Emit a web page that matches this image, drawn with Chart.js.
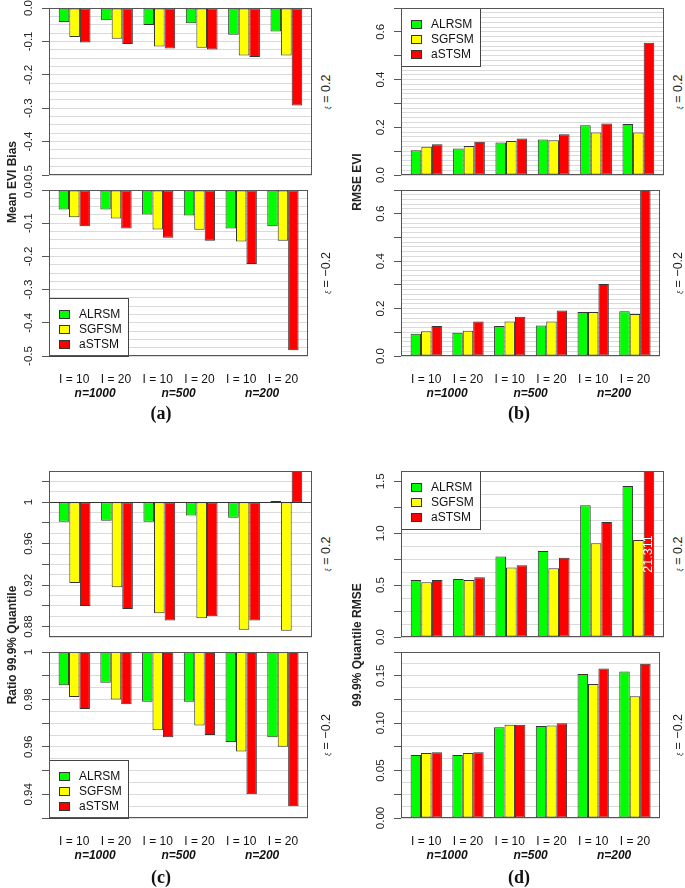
<!DOCTYPE html>
<html><head><meta charset="utf-8">
<script src="https://cdn.jsdelivr.net/npm/chart.js@4"></script>
<style>
html,body{margin:0;padding:0;background:#fff;overflow:hidden;}
#wrap{position:relative;width:685px;height:888px;overflow:hidden;background:#fff;font-family:"Liberation Sans",Arial,sans-serif;}
canvas{position:absolute;}
.rot{position:absolute;transform:translate(-50%,-50%) rotate(-90deg);white-space:nowrap;color:#222;}
.ytitle{font-weight:bold;font-size:12px;}
.xi{font-size:12.5px;}
.xi .sym{font-size:7px;font-style:italic;}
.plab{position:absolute;transform:translate(-50%,-50%);font-family:"Liberation Serif","Times New Roman",serif;font-weight:bold;font-size:18px;color:#111;white-space:nowrap;}
</style></head><body><div id="wrap"></div>
<script>
// ---------- categories ----------
const groupLabels = ["I = 10", "I = 20", "I = 10", "I = 20", "I = 10", "I = 20"];
const sampleSizeLabels = ["n=1000", "n=500", "n=200"];
const seriesNames = ["ALRSM", "SGFSM", "aSTSM"];

// ---------- (a) Mean EVI Bias ----------
const biasPosALRSM = [-0.042, -0.037, -0.051, -0.046, -0.080, -0.070];
const biasPosSGFSM = [-0.087, -0.092, -0.115, -0.119, -0.142, -0.142];
const biasPosASTSM = [-0.103, -0.108, -0.121, -0.124, -0.147, -0.292];
const biasNegALRSM = [-0.059, -0.059, -0.074, -0.077, -0.116, -0.109];
const biasNegSGFSM = [-0.082, -0.086, -0.119, -0.120, -0.155, -0.153];
const biasNegASTSM = [-0.109, -0.116, -0.144, -0.153, -0.223, -0.483];

// ---------- (b) RMSE EVI ----------
const rmsePosALRSM = [0.104, 0.111, 0.136, 0.149, 0.209, 0.214];
const rmsePosSGFSM = [0.118, 0.122, 0.143, 0.146, 0.178, 0.178];
const rmsePosASTSM = [0.129, 0.139, 0.153, 0.171, 0.216, 0.554];
const rmseNegALRSM = [0.094, 0.098, 0.126, 0.129, 0.186, 0.189];
const rmseNegSGFSM = [0.104, 0.107, 0.146, 0.146, 0.186, 0.177];
const rmseNegASTSM = [0.126, 0.146, 0.165, 0.192, 0.304, 0.700];

// ---------- (c) Ratio 99.9% Quantile ----------
const ratioPosALRSM = [0.981, 0.982, 0.981, 0.987, 0.985, 1.001];
const ratioPosSGFSM = [0.922, 0.918, 0.893, 0.888, 0.877, 0.876];
const ratioPosASTSM = [0.900, 0.897, 0.886, 0.890, 0.886, 1.040];
const ratioNegALRSM = [0.986, 0.987, 0.979, 0.979, 0.962, 0.964];
const ratioNegSGFSM = [0.981, 0.980, 0.967, 0.969, 0.958, 0.960];
const ratioNegASTSM = [0.976, 0.978, 0.964, 0.965, 0.940, 0.935];

// ---------- (d) 99.9% Quantile RMSE ----------
const qrmsePosALRSM = [0.549, 0.559, 0.777, 0.829, 1.269, 1.455];
const qrmsePosSGFSM = [0.527, 0.549, 0.671, 0.662, 0.903, 0.935];
const qrmsePosASTSM = [0.549, 0.575, 0.691, 0.765, 1.108, 21.311];
const qrmseNegALRSM = [0.0664, 0.0664, 0.0958, 0.0969, 0.1517, 0.1545];
const qrmseNegSGFSM = [0.0685, 0.0685, 0.0983, 0.0976, 0.1413, 0.1283];
const qrmseNegASTSM = [0.0692, 0.0692, 0.0983, 0.1000, 0.1577, 0.1626];

// ---------- tick labels ----------
const biasTicks = ["0.0", "-0.1", "-0.2", "-0.3", "-0.4", "-0.5"];
const rmseTicks = ["0.0", "0.2", "0.4", "0.6"];
const ratioPosTicks = ["0.88", "0.92", "0.96", "1"];
const ratioNegTicks = ["0.94", "0.96", "0.98", "1"];
const qrmsePosTicks = ["0.0", "0.5", "1.0", "1.5"];
const qrmseNegTicks = ["0.00", "0.05", "0.10", "0.15"];

const seriesColors = ["#00FF00", "#FFFF00", "#FF0000"];
const FONT = '"Liberation Sans", Arial, sans-serif';
Chart.defaults.font.family = FONT;

const panels = [
  {rect:[49,8,312,175],   series:[biasPosALRSM,biasPosSGFSM,biasPosASTSM], min:-0.5, max:0, major:0.1, grid:0.025, labels:biasTicks, bottom:false, xi:"0.2"},
  {rect:[49,190,312,356], series:[biasNegALRSM,biasNegSGFSM,biasNegASTSM], min:-0.5, max:0, major:0.1, grid:0.025, labels:biasTicks, bottom:true, xi:"\u22120.2", legend:"bottomleft"},
  {rect:[401,8,664,175],  series:[rmsePosALRSM,rmsePosSGFSM,rmsePosASTSM], min:0, max:0.7, major:0.1, grid:0.02, labels:rmseTicks, bottom:false, xi:"0.2", legend:"topleft"},
  {rect:[401,190,664,356],series:[rmseNegALRSM,rmseNegSGFSM,rmseNegASTSM], min:0, max:0.7, major:0.1, grid:0.02, labels:rmseTicks, bottom:true, xi:"\u22120.2"},
  {rect:[49,471,312,637], series:[ratioPosALRSM,ratioPosSGFSM,ratioPosASTSM], min:0.87, max:1.03, major:0.02, grid:0.01, labels:ratioPosTicks, bottom:false, xi:"0.2", base:1, refLine:1},
  {rect:[49,652,312,818], series:[ratioNegALRSM,ratioNegSGFSM,ratioNegASTSM], min:0.93, max:1, major:0.01, grid:0.005, labels:ratioNegTicks, bottom:true, xi:"\u22120.2", base:1, legend:"bottomleft"},
  {rect:[401,471,664,637],series:[qrmsePosALRSM,qrmsePosSGFSM,qrmsePosASTSM], min:0, max:1.6, major:0.25, grid:0.125, labels:qrmsePosTicks, bottom:false, xi:"0.2", legend:"topleft", overflowText:true},
  {rect:[401,652,664,818],series:[qrmseNegALRSM,qrmseNegSGFSM,qrmseNegASTSM], min:0, max:0.175, major:0.025, grid:0.0125, labels:qrmseNegTicks, bottom:true, xi:"\u22120.2"}
];

const wrap = document.getElementById('wrap');

function gridTicks(min, max, step) {
  const k0 = Math.ceil(min / step - 1e-7), k1 = Math.floor(max / step + 1e-7);
  const out = [];
  for (let k = k0; k <= k1; k++) out.push({value: +(k * step).toFixed(6)});
  return out;
}
function isMajor(v, step) { return Math.abs(v / step - Math.round(v / step)) < 1e-6; }

const decorPlugin = {
  id: 'decor',
  afterDraw(chart, args, o) {
    const ctx = chart.ctx, a = chart.chartArea, ys = chart.scales.y;
    ctx.save();
    if (o.overflowText) {
      chart.data.datasets.forEach((ds, di) => {
        const meta = chart.getDatasetMeta(di);
        ds.data.forEach((d, i) => {
          if (d.y > ys.max) {
            const el = meta.data[i];
            ctx.save();
            ctx.translate(el.x, ys.getPixelForValue((ys.min + ys.max) / 2));
            ctx.rotate(-Math.PI / 2);
            ctx.fillStyle = '#fff';
            ctx.font = '12.5px ' + FONT;
            ctx.textAlign = 'center';
            ctx.textBaseline = 'middle';
            ctx.fillText(String(d.y), 0, 0);
            ctx.restore();
          }
        });
      });
    }
    if (o.refLine != null) {
      const y = Math.round(ys.getPixelForValue(o.refLine)) + 0.5;
      ctx.strokeStyle = '#333'; ctx.lineWidth = 1;
      ctx.beginPath(); ctx.moveTo(a.left, y); ctx.lineTo(a.right, y); ctx.stroke();
    }
    if (o.legend) {
      const w = 79, h = 58;
      const x = a.left, y = o.legend === 'topleft' ? a.top : a.bottom - h;
      ctx.fillStyle = '#fff'; ctx.fillRect(x, y, w, h);
      ctx.strokeStyle = '#444'; ctx.lineWidth = 1;
      ctx.strokeRect(Math.round(x) + 0.5, Math.round(y) + 0.5, w, h);
      chart.data.datasets.forEach((ds, i) => {
        const cy = Math.round(y + 15.5 + i * 15.2);
        ctx.fillStyle = ds.backgroundColor;
        ctx.fillRect(x + 10, cy - 4, 10, 8);
        ctx.strokeStyle = '#333';
        ctx.strokeRect(x + 10.5, cy - 3.5, 10, 8);
        ctx.fillStyle = '#111';
        ctx.font = '12px ' + FONT;
        ctx.textAlign = 'left'; ctx.textBaseline = 'middle';
        ctx.fillText(ds.label, x + 30, cy + 0.5);
      });
    }
    ctx.strokeStyle = '#555'; ctx.lineWidth = 1;
    ctx.strokeRect(Math.round(a.left) + 0.5, Math.round(a.top) + 0.5, Math.round(a.right - a.left) - 1, Math.round(a.bottom - a.top) - 1);
    ctx.fillStyle = '#222';
    ctx.font = '11.5px ' + FONT;
    ctx.textAlign = 'center'; ctx.textBaseline = 'alphabetic';
    (o.labels || []).forEach(s => {
      const y = ys.getPixelForValue(parseFloat(s));
      ctx.save();
      ctx.translate(a.left - 21, y);
      ctx.rotate(-Math.PI / 2);
      ctx.fillText(s, 0, 4.1);
      ctx.restore();
    });
    ctx.restore();
  }
};

function makeChart(p) {
  const [L, T, R, B] = p.rect;
  const ml = 48, mt = 16, mr = 4, mb = p.bottom ? 52 : 16;
  const w = R - L + ml + mr, h = B - T + mt + mb;
  const c = document.createElement('canvas');
  c.width = w; c.height = h;
  c.style.left = (L - ml) + 'px'; c.style.top = (T - mt) + 'px';
  c.style.width = w + 'px'; c.style.height = h + 'px';
  wrap.appendChild(c);

  const datasets = p.series.map((arr, si) => ({
    label: seriesNames[si],
    data: arr.map((v, j) => ({x: j, y: p.base != null ? [p.base, v] : v})),
    backgroundColor: seriesColors[si],
    borderColor: '#333',
    borderWidth: 1,
    borderSkipped: false,
    categoryPercentage: 0.75,
    barPercentage: 1,
    clip: 0,
    xAxisID: 'x', yAxisID: 'y'
  }));

  const scales = {
    x: {
      type: 'linear', min: -0.605, max: 5.605, offset: false, weight: 0,
      afterBuildTicks: s => { s.ticks = groupLabels.map((_, i) => ({value: i})); },
      afterFit: s => { s.height = p.bottom ? 31 : 0; },
      grid: {display: false, drawTicks: false, tickLength: 0},
      border: {display: false},
      ticks: {display: p.bottom, autoSkip: false, maxRotation: 0, padding: 17.5, color: '#111',
              font: {size: 12, lineHeight: 1}, callback: v => groupLabels[Math.round(v)]}
    },
    y: {
      type: 'linear', min: p.min, max: p.max, beginAtZero: false, grace: 0,
      afterBuildTicks: s => { s.ticks = gridTicks(p.min, p.max, p.grid); },
      afterFit: s => { s.width = ml; },
      grid: {display: true, drawOnChartArea: true, drawTicks: true, tickLength: 7, lineWidth: 1,
             color: '#dadada',
             tickColor: ctx => (ctx.tick && isMajor(ctx.tick.value, p.major)) ? '#555' : 'rgba(0,0,0,0)'},
      border: {display: false},
      ticks: {display: false}
    }
  };
  if (p.bottom) {
    scales.x2 = {
      type: 'linear', axis: 'x', position: 'bottom', min: -0.605, max: 5.605, offset: false, weight: 1,
      afterBuildTicks: s => { s.ticks = sampleSizeLabels.map((_, i) => ({value: 2 * i + 0.5})); },
      afterFit: s => { s.height = 21; },
      grid: {display: false, drawTicks: false, tickLength: 0},
      border: {display: false},
      ticks: {display: true, autoSkip: false, maxRotation: 0, padding: 0.5, color: '#111',
              font: {size: 12, weight: 'bold', style: 'italic', lineHeight: 1},
              callback: v => sampleSizeLabels[Math.round((v - 0.5) / 2)]}
    };
  }
  new Chart(c, {
    type: 'bar',
    data: {datasets},
    options: {
      responsive: false, animation: false, devicePixelRatio: 1,
      layout: {padding: {left: 0, top: mt, right: mr, bottom: p.bottom ? 0 : mb}},
      scales,
      plugins: {
        legend: {display: false}, tooltip: {enabled: false}, title: {display: false},
        decor: {labels: p.labels, legend: p.legend || null, refLine: p.refLine, overflowText: !!p.overflowText}
      }
    },
    plugins: [decorPlugin]
  });

  const xi = document.createElement('div');
  xi.className = 'rot xi';
  xi.style.left = (R + 14) + 'px';
  xi.style.top = ((T + B) / 2) + 'px';
  xi.innerHTML = '<span class="sym">\u03BE</span> = ' + p.xi;
  wrap.appendChild(xi);
}

panels.forEach(makeChart);

function addText(cls, txt, x, y) {
  const d = document.createElement('div');
  d.className = cls; d.textContent = txt;
  d.style.left = x + 'px'; d.style.top = y + 'px';
  wrap.appendChild(d);
}
addText('rot ytitle', 'Mean EVI Bias', 12, 182);
addText('rot ytitle', 'RMSE EVI', 357, 182);
addText('rot ytitle', 'Ratio 99.9% Quantile', 12, 645);
addText('rot ytitle', '99.9% Quantile RMSE', 357, 645);
addText('plab', '(a)', 161, 413);
addText('plab', '(b)', 519, 413);
addText('plab', '(c)', 161, 877);
addText('plab', '(d)', 519, 877);
</script>
</body></html>
